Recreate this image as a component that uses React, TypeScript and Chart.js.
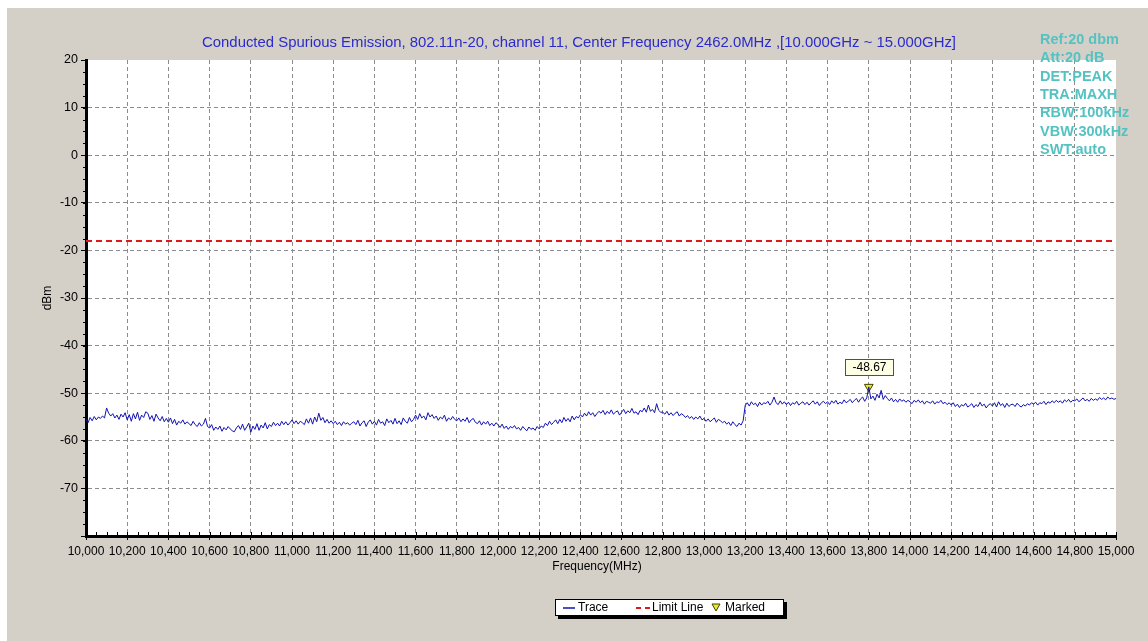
import React, { useEffect, useRef } from "react";
import { Chart, registerables } from "chart.js";

Chart.register(...registerables);

const TITLE =
  "Conducted Spurious Emission, 802.11n-20, channel 11, Center Frequency 2462.0MHz ,[10.000GHz ~ 15.000GHz]";
const SETTINGS = ["Ref:20 dbm", "Att:20 dB", "DET:PEAK", "TRA:MAXH", "RBW:100kHz", "VBW:300kHz", "SWT:auto"];
const X_TITLE = "Frequency(MHz)";
const Y_TITLE = "dBm";
const LEGEND_LABELS = ["Trace", "Limit Line", "Marked"];

const FREQ_START = 10000;
const FREQ_STOP = 15000;
const FREQ_STEP = 10;
const X_TICK_STEP = 200;
const X_MINOR_STEP = 50;
const Y_MIN = -80;
const Y_MAX = 20;
const Y_TICK_STEP = 10;
const Y_MINOR_STEP = 2.5;

const LIMIT_DBM = -18;
const MARKER_FREQ = 13800;
const MARKER_DBM = -48.67;

// Trace readings (dBm), one every 10 MHz from 10,000 to 15,000 MHz (one row = 100 MHz)
const TRACE_DBM = [
  -55.4, -56.2, -55.1, -55.8, -54.9, -55.6, -55.0, -55.3, -54.8, -55.2,
  -53.1, -54.2, -54.8, -54.3, -55.2, -54.6, -55.5, -54.4, -55.0, -54.1,
  -55.6, -54.5, -55.9, -54.3, -55.4, -54.0, -55.7, -54.6, -55.1, -53.9,
  -54.2, -55.5, -54.7, -55.9, -54.4, -55.2, -55.8, -54.9, -56.0, -55.3,
  -56.1, -55.2, -56.4, -55.5, -56.7, -55.9, -56.3, -55.6, -56.5, -56.0,
  -56.4, -56.8, -55.9, -56.6, -57.0, -56.2, -56.9, -56.5, -55.3, -57.0,
  -57.3, -56.6, -57.8, -57.1, -57.6, -56.9, -58.0, -57.2, -57.7, -57.0,
  -57.5, -57.9, -58.1, -57.3, -56.8, -57.6, -56.5, -57.8, -57.1, -56.3,
  -58.2, -56.9, -57.6, -56.4, -57.8, -56.7, -57.3, -56.2, -57.5, -56.6,
  -57.0, -56.1, -56.8, -56.3, -56.9, -55.9, -56.6, -56.0, -56.7, -56.2,
  -55.6, -56.4, -55.8, -56.5, -55.9, -56.2, -56.6, -55.4, -56.3, -55.2,
  -56.5, -55.0, -56.0, -54.2, -55.7, -55.1, -56.2, -55.5, -56.3, -55.8,
  -56.4, -55.9, -56.6, -56.1, -56.8, -56.0, -56.5, -56.2, -56.7, -56.3,
  -56.0, -56.6, -55.7, -56.9, -56.2, -55.8, -57.0, -56.1, -55.6, -56.5,
  -55.9, -56.7, -55.5, -56.3, -56.0, -56.8, -55.4, -56.2, -55.7, -56.5,
  -55.3, -56.4, -55.8, -56.6, -55.2, -55.9, -56.3, -55.1, -56.0, -55.5,
  -54.6, -55.5, -54.3, -55.2, -54.8, -55.6, -54.1, -55.0, -54.5, -55.3,
  -54.8, -55.7, -55.0, -55.4, -54.6, -55.9, -55.2, -55.6, -54.9, -55.5,
  -55.8, -55.2, -56.0, -55.4, -55.9, -55.1, -56.2, -55.6, -55.3, -56.1,
  -56.4, -55.8, -56.7, -56.0, -56.5, -55.9, -56.8, -56.3, -56.9, -56.2,
  -56.6, -57.2, -56.5, -57.4, -56.9, -57.6, -57.0, -57.3, -56.8, -57.5,
  -57.2, -57.8, -57.0, -57.5, -57.9, -57.1, -57.6, -57.3, -57.8, -57.0,
  -57.5, -56.9, -57.2, -56.3, -56.8, -55.9, -56.6, -56.1, -55.6, -56.4,
  -55.5, -56.2, -55.1, -55.9, -55.3, -56.0, -54.8, -55.6, -54.9, -55.2,
  -54.5, -55.0, -54.2, -54.8, -53.9, -54.6, -54.1, -54.9, -54.3, -53.8,
  -54.2, -53.6, -54.5, -53.8, -54.3, -53.5, -54.4, -54.0, -53.7, -54.6,
  -54.0, -53.4, -54.3, -53.7, -54.1, -53.2, -54.2, -53.9, -54.5, -53.6,
  -53.9, -53.1, -54.0, -52.5, -53.8, -53.4, -54.1, -52.2, -53.6, -54.0,
  -54.0, -54.4, -53.8, -54.6, -54.1, -54.7, -54.2, -53.9, -54.8, -54.3,
  -54.6, -55.1, -54.7, -55.3, -54.9, -55.5, -55.0, -55.4, -54.8, -55.6,
  -55.3, -55.9, -55.4, -56.0, -55.6, -55.2, -56.1, -55.5, -55.8, -56.2,
  -55.9, -56.5, -56.1, -56.8, -56.0, -56.6, -57.0, -56.3, -56.7, -55.8,
  -52.6, -52.0, -52.7, -51.8, -52.4, -52.1, -52.8, -51.9, -52.5, -52.0,
  -52.2, -51.7, -52.5, -51.9, -50.8, -52.0, -52.4, -51.6, -52.3, -51.8,
  -52.4, -51.9, -52.6, -52.0, -52.3, -51.7, -52.5, -52.1, -51.8, -52.4,
  -51.9, -52.5, -52.0, -51.6, -52.3, -51.8, -52.6, -52.0, -51.7, -52.2,
  -51.8, -52.4, -51.6, -52.1, -51.5, -52.3, -51.9, -52.2, -51.4, -52.0,
  -51.7, -51.3, -52.0, -51.5, -51.1, -51.9, -51.2, -50.8, -51.7, -51.0,
  -48.67, -51.2, -50.6, -51.5, -50.2, -51.0, -49.4, -51.3, -50.5, -51.1,
  -51.6, -51.0, -51.8, -51.3, -51.9, -51.2, -51.7, -51.4, -51.9, -51.5,
  -51.8, -52.2, -51.5, -51.9, -51.4, -52.0, -51.6, -52.3, -51.7, -51.9,
  -52.1, -51.6, -52.3, -51.8, -52.0, -51.5, -52.2, -51.9, -52.4, -52.0,
  -52.5, -52.0, -52.8, -52.3, -53.0, -52.4, -52.7, -52.1, -52.9, -52.6,
  -52.2, -53.0, -52.4, -52.8, -51.9, -52.7, -52.3, -53.1, -52.5, -52.2,
  -52.7, -52.0, -52.9, -51.8, -52.6, -52.2, -53.0, -52.1, -52.8, -52.4,
  -52.3, -52.8, -52.1, -52.6, -52.9, -52.4, -52.7, -52.2, -52.5, -52.0,
  -52.3, -51.9, -52.5, -52.0, -52.2, -51.7, -52.4, -51.8, -52.1, -51.6,
  -52.0, -51.5, -51.9, -51.6, -52.1, -51.4, -51.8, -51.3, -51.9, -51.5,
  -51.6, -51.2, -51.8, -51.4, -51.0, -51.6, -51.3, -51.7, -51.1, -51.5,
  -51.2, -51.5, -50.9, -51.3, -51.0, -51.4, -50.8, -51.2, -51.0, -51.3,
  -51.1,
];

const FONT = '"Liberation Sans", Arial, sans-serif';
const BG_GRAY = "#d4d0c8";
const TRACE_COLOR = "#1212b0";
const LIMIT_COLOR = "#e01818";
const TITLE_COLOR = "#2b2bcc";
const SETTINGS_COLOR = "#55c2c2";
const GRID_COLOR = "#8c8c8c";

const W = 1148;
const H = 641;

const decorPlugin = {
  id: "decor",
  beforeDraw(chart: any) {
    const { ctx, chartArea: a, width, height } = chart;
    ctx.save();
    ctx.fillStyle = "#ffffff";
    ctx.fillRect(0, 0, width, height);
    ctx.fillStyle = BG_GRAY;
    ctx.fillRect(7, 8, width - 7, height - 8);
    ctx.fillStyle = "#ffffff";
    ctx.fillRect(a.left, a.top, a.right - a.left, a.bottom - a.top);
    ctx.restore();
  },
  afterDraw(chart: any) {
    const { ctx, chartArea: a } = chart;
    const xs = chart.scales.x;
    const ys = chart.scales.y;
    ctx.save();

    // minor ticks
    ctx.strokeStyle = "#000";
    ctx.lineWidth = 1;
    ctx.beginPath();
    for (let f = FREQ_START; f <= FREQ_STOP; f += X_MINOR_STEP) {
      const px = Math.round(xs.getPixelForValue(f)) + 0.5;
      ctx.moveTo(px, a.bottom - 4);
      ctx.lineTo(px, a.bottom);
    }
    for (let v = Y_MIN; v <= Y_MAX; v += Y_MINOR_STEP) {
      const py = Math.round(ys.getPixelForValue(v)) + 0.5;
      ctx.moveTo(a.left - 3, py);
      ctx.lineTo(a.left, py);
    }
    ctx.stroke();

    // title
    ctx.fillStyle = TITLE_COLOR;
    ctx.font = `14.9px ${FONT}`;
    ctx.textAlign = "center";
    ctx.textBaseline = "middle";
    ctx.fillText(TITLE, 579, 43);

    // settings block
    ctx.fillStyle = SETTINGS_COLOR;
    ctx.font = `bold 14.5px ${FONT}`;
    ctx.textAlign = "left";
    SETTINGS.forEach((s, i) => ctx.fillText(s, 1040, 40 + i * 18.3));

    // axis titles
    ctx.fillStyle = "#000";
    ctx.font = `12px ${FONT}`;
    ctx.textAlign = "center";
    ctx.fillText(X_TITLE, 597, 567);
    ctx.save();
    ctx.translate(48, 298);
    ctx.rotate(-Math.PI / 2);
    ctx.fillText(Y_TITLE, 0, 0);
    ctx.restore();

    // marker label
    const mx = xs.getPixelForValue(MARKER_FREQ);
    const my = ys.getPixelForValue(MARKER_DBM);
    const bw = 48;
    const bh = 16;
    const bx = Math.round(mx - bw / 2) + 0.5;
    const by = Math.round(my - 28) + 0.5;
    ctx.fillStyle = "#ffffe6";
    ctx.fillRect(bx, by, bw, bh);
    ctx.strokeStyle = "#505050";
    ctx.lineWidth = 1;
    ctx.strokeRect(bx, by, bw, bh);
    ctx.fillStyle = "#000";
    ctx.font = `12px ${FONT}`;
    ctx.textAlign = "center";
    ctx.fillText(MARKER_DBM.toFixed(2), bx + bw / 2, by + bh / 2 + 0.5);

    // legend
    const lx = 555;
    const ly = 599;
    const lw = 229;
    const lh = 17;
    ctx.fillStyle = "#000";
    ctx.fillRect(lx + 3, ly + 3, lw, lh);
    ctx.fillStyle = "#fff";
    ctx.fillRect(lx, ly, lw, lh);
    ctx.strokeStyle = "#000";
    ctx.strokeRect(lx + 0.5, ly + 0.5, lw - 1, lh - 1);
    const cy = ly + lh / 2 + 0.5;
    ctx.strokeStyle = TRACE_COLOR;
    ctx.lineWidth = 1.5;
    ctx.beginPath();
    ctx.moveTo(563, cy);
    ctx.lineTo(575, cy);
    ctx.stroke();
    ctx.strokeStyle = LIMIT_COLOR;
    ctx.lineWidth = 2;
    ctx.setLineDash([5, 4]);
    ctx.beginPath();
    ctx.moveTo(636, cy);
    ctx.lineTo(650, cy);
    ctx.stroke();
    ctx.setLineDash([]);
    ctx.fillStyle = "#e8e830";
    ctx.strokeStyle = "#404000";
    ctx.lineWidth = 1;
    ctx.beginPath();
    ctx.moveTo(712, cy - 4);
    ctx.lineTo(720, cy - 4);
    ctx.lineTo(716, cy + 3);
    ctx.closePath();
    ctx.fill();
    ctx.stroke();
    ctx.fillStyle = "#000";
    ctx.font = `12px ${FONT}`;
    ctx.textAlign = "left";
    ctx.fillText(LEGEND_LABELS[0], 578, cy);
    ctx.fillText(LEGEND_LABELS[1], 652, cy);
    ctx.fillText(LEGEND_LABELS[2], 725, cy);

    ctx.restore();
  },
};

export default function App() {
  const canvasRef = useRef<HTMLCanvasElement | null>(null);

  useEffect(() => {
    const canvas = canvasRef.current;
    if (!canvas) return;
    const tracePoints = TRACE_DBM.map((v, i) => ({ x: FREQ_START + i * FREQ_STEP, y: v }));
    const limitPoints = [
      { x: FREQ_START, y: LIMIT_DBM },
      { x: FREQ_STOP, y: LIMIT_DBM },
    ];
    const markerPoints = [{ x: MARKER_FREQ, y: MARKER_DBM }];

    const chart = new Chart(canvas, {
      type: "line",
      data: {
        datasets: [
          {
            label: LEGEND_LABELS[0],
            data: tracePoints,
            borderColor: TRACE_COLOR,
            borderWidth: 1,
            pointRadius: 0,
            tension: 0,
          },
          {
            label: LEGEND_LABELS[1],
            data: limitPoints,
            borderColor: LIMIT_COLOR,
            borderWidth: 2,
            borderDash: [6, 4],
            pointRadius: 0,
          },
          {
            label: LEGEND_LABELS[2],
            data: markerPoints,
            showLine: false,
            pointStyle: "triangle",
            rotation: 180,
            pointRadius: 5,
            backgroundColor: "#e8e830",
            borderColor: "#404000",
            borderWidth: 1,
          },
        ],
      },
      options: {
        responsive: false,
        animation: false,
        devicePixelRatio: 1,
        events: [],
        layout: { padding: { left: 0, top: 60, right: 32, bottom: 0 } },
        plugins: {
          legend: { display: false },
          tooltip: { enabled: false },
          title: { display: false },
        },
        scales: {
          x: {
            type: "linear",
            min: FREQ_START,
            max: FREQ_STOP,
            afterFit: (s: any) => {
              s.height = 105;
            },
            ticks: {
              stepSize: X_TICK_STEP,
              autoSkip: false,
              maxRotation: 0,
              minRotation: 0,
              padding: 4,
              color: "#000",
              font: { family: FONT, size: 12 },
              callback: (v: any) => Number(v).toLocaleString("en-US"),
            },
            grid: {
              color: (c: any) => (c.tick && c.tick.value === FREQ_STOP ? "rgba(0,0,0,0)" : GRID_COLOR),
              tickColor: "#000",
              tickLength: 4,
              lineWidth: 1,
            },
            border: { display: true, color: "#000", width: 3, dash: [4, 3] },
          },
          y: {
            type: "linear",
            min: Y_MIN,
            max: Y_MAX,
            afterFit: (s: any) => {
              s.width = 86;
            },
            ticks: {
              stepSize: Y_TICK_STEP,
              padding: 3,
              color: "#000",
              font: { family: FONT, size: 12.5 },
              callback: (v: any) => (Number(v) === Y_MIN ? "" : String(v)),
            },
            grid: {
              color: (c: any) => (c.tick && c.tick.value === Y_MAX ? "rgba(0,0,0,0)" : GRID_COLOR),
              tickColor: "#000",
              tickLength: 5,
              lineWidth: 1,
            },
            border: { display: true, color: "#000", width: 3, dash: [4, 3] },
          },
        },
      },
      plugins: [decorPlugin],
    });

    return () => chart.destroy();
  }, []);

  return (
    <div style={{ position: "absolute", left: 0, top: 0, width: W, height: H }}>
      <canvas ref={canvasRef} width={W} height={H} style={{ display: "block" }} />
    </div>
  );
}
